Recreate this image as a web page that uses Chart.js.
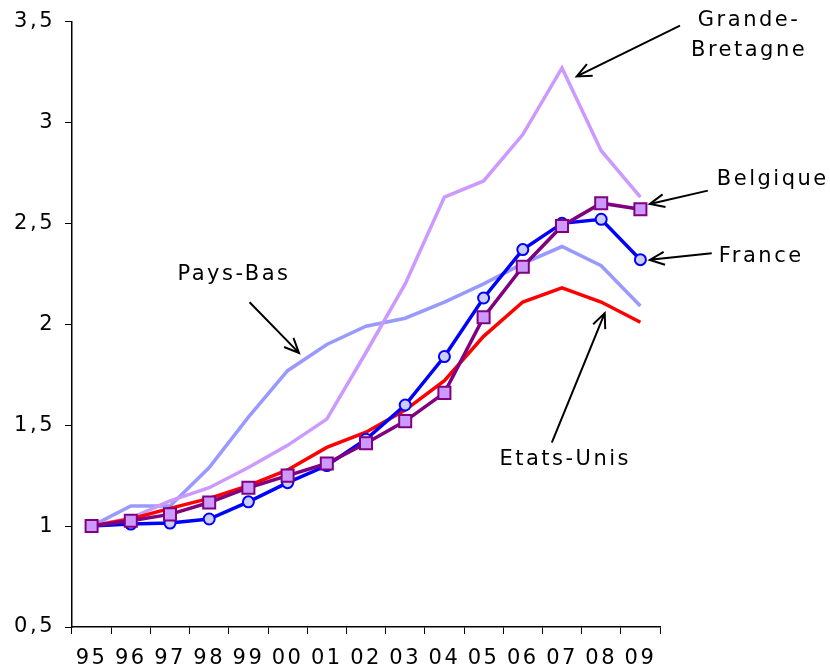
<!DOCTYPE html>
<html>
<head>
<meta charset="utf-8">
<script src="https://cdn.jsdelivr.net/npm/chart.js@4/dist/chart.umd.min.js"></script>
<style>
  html, body { margin: 0; padding: 0; background: #fff; }
  #wrap { width: 830px; height: 671px; }
</style>
</head>
<body>
<div id="wrap"><canvas id="chart" width="830" height="671"></canvas></div>
<script>
const years = ['95', '96', '97', '98', '99', '00', '01', '02', '03', '04', '05', '06', '07', '08', '09'];
const yTicks = [0.5, 1, 1.5, 2, 2.5, 3, 3.5];

const grandeBretagne = [1.00, 1.04, 1.125, 1.19, 1.29, 1.40, 1.53, 1.86, 2.20, 2.63, 2.71, 2.94, 3.27, 2.86, 2.63];
const paysBas = [1.00, 1.10, 1.10, 1.29, 1.54, 1.77, 1.90, 1.99, 2.03, 2.11, 2.20, 2.30, 2.385, 2.29, 2.09];
const france = [1.00, 1.01, 1.015, 1.035, 1.12, 1.215, 1.30, 1.43, 1.60, 1.84, 2.13, 2.37, 2.50, 2.52, 2.32];
const belgique = [1.00, 1.026, 1.058, 1.117, 1.19, 1.25, 1.31, 1.41, 1.52, 1.66, 2.035, 2.285, 2.487, 2.60, 2.57];
const etatsUnis = [1.00, 1.035, 1.088, 1.137, 1.20, 1.278, 1.39, 1.465, 1.575, 1.72, 1.94, 2.11, 2.18, 2.11, 2.01];

// labels and arrows, placed in data units (category index, value)
const notes = [
  { lines: ['Grande-', 'Bretagne'], x: 16.74, y: 3.505, step: 0.148, align: 'center' },
  { lines: ['Belgique'], x: 15.95, y: 2.715, align: 'left' },
  { lines: ['France'], x: 16.0, y: 2.335, align: 'left' },
  { lines: ['Pays-Bas'], x: 3.6, y: 2.244, align: 'center' },
  { lines: ['Etats-Unis'], x: 12.05, y: 1.331, align: 'center' }
];
const arrows = [
  { from: [15.01, 3.48], to: [12.375, 3.228] },
  { from: [15.72, 2.662], to: [14.24, 2.596] },
  { from: [15.82, 2.352], to: [14.24, 2.319] },
  { from: [4.03, 2.109], to: [5.29, 1.858] },
  { from: [11.74, 1.413], to: [13.09, 2.055] }
];

const FONT = '"DejaVu Sans", Verdana, sans-serif';
const SPACING = 2.5;
Chart.defaults.font.family = FONT;
Chart.defaults.font.size = 21;
Chart.defaults.color = '#000';

const spacing = {
  id: 'spacing',
  beforeDraw(chart) { chart.ctx.letterSpacing = SPACING + 'px'; }
};

function fmt(v) { return String(v).replace('.', ','); }

const annotate = {
  id: 'annotate',
  afterDatasetsDraw(chart) {
    const ctx = chart.ctx;
    const xs = chart.scales.x, ys = chart.scales.y;
    ctx.save();
    ctx.letterSpacing = SPACING + 'px';
    ctx.strokeStyle = '#000';
    ctx.fillStyle = '#000';
    ctx.lineWidth = 2;
    ctx.font = '21px ' + FONT;
    ctx.textBaseline = 'middle';
    ctx.textAlign = 'left';

    // y tick labels, right-aligned by measuring
    ys.ticks.forEach(t => {
      const s = fmt(t.value);
      const w = ctx.measureText(s).width - SPACING;
      ctx.fillText(s, ys.right - 19.5 - w, ys.getPixelForValue(t.value));
    });

    notes.forEach(n => {
      n.lines.forEach((t, k) => {
        const w = ctx.measureText(t).width - SPACING;
        let x = xs.getPixelForValue(n.x);
        if (n.align === 'center') x -= w / 2;
        ctx.fillText(t, x, ys.getPixelForValue(n.y - k * (n.step || 0)));
      });
    });
    arrows.forEach(a => {
      const x1 = xs.getPixelForValue(a.from[0]), y1 = ys.getPixelForValue(a.from[1]);
      const x2 = xs.getPixelForValue(a.to[0]), y2 = ys.getPixelForValue(a.to[1]);
      const ang = Math.atan2(y2 - y1, x2 - x1);
      const head = 16, spread = 0.42;
      ctx.beginPath();
      ctx.moveTo(x1, y1);
      ctx.lineTo(x2, y2);
      ctx.moveTo(x2 - head * Math.cos(ang - spread), y2 - head * Math.sin(ang - spread));
      ctx.lineTo(x2, y2);
      ctx.lineTo(x2 - head * Math.cos(ang + spread), y2 - head * Math.sin(ang + spread));
      ctx.stroke();
    });
    ctx.restore();
  }
};

function line(label, data, color, extra) {
  return Object.assign({
    label, data,
    borderColor: color,
    backgroundColor: color,
    borderWidth: 3.5,
    pointRadius: 0,
    tension: 0
  }, extra || {});
}

new Chart(document.getElementById('chart'), {
  type: 'line',
  data: {
    labels: years,
    datasets: [
      line('Belgique', belgique, '#800080', {
        order: 1, pointStyle: 'rect', pointRadius: 8.5,
        pointBackgroundColor: '#CC99FF', pointBorderColor: '#800080', pointBorderWidth: 2
      }),
      line('France', france, '#0000FF', {
        order: 2, pointStyle: 'circle', pointRadius: 5.5,
        pointBackgroundColor: '#CCCCFF', pointBorderColor: '#0000FF', pointBorderWidth: 2
      }),
      line('Etats-Unis', etatsUnis, '#FF0000', { order: 3 }),
      line('Grande-Bretagne', grandeBretagne, '#CC99FF', { order: 4 }),
      line('Pays-Bas', paysBas, '#9999FF', { order: 5 })
    ]
  },
  options: {
    responsive: false,
    animation: false,
    events: [],
    layout: { padding: { top: 21.5, right: 170, bottom: 0, left: 0 } },
    plugins: { legend: { display: false }, tooltip: { enabled: false } },
    scales: {
      x: {
        offset: true,
        afterFit: s => { s.height = 44; },
        grid: { offset: true, drawOnChartArea: false, drawTicks: true, tickLength: 7, color: '#000' },
        border: { color: '#000', width: 1.5 },
        ticks: { padding: 12, maxRotation: 0, autoSkip: false }
      },
      y: {
        min: 0.5, max: 3.5,
        afterBuildTicks: s => { s.ticks = yTicks.map(v => ({ value: v })); },
        afterFit: s => { s.width = 72; },
        grid: { drawOnChartArea: false, drawTicks: true, tickLength: 7, color: '#000' },
        border: { color: '#000', width: 1.5 },
        ticks: { display: false }
      }
    }
  },
  plugins: [spacing, annotate]
});
</script>
</body>
</html>
